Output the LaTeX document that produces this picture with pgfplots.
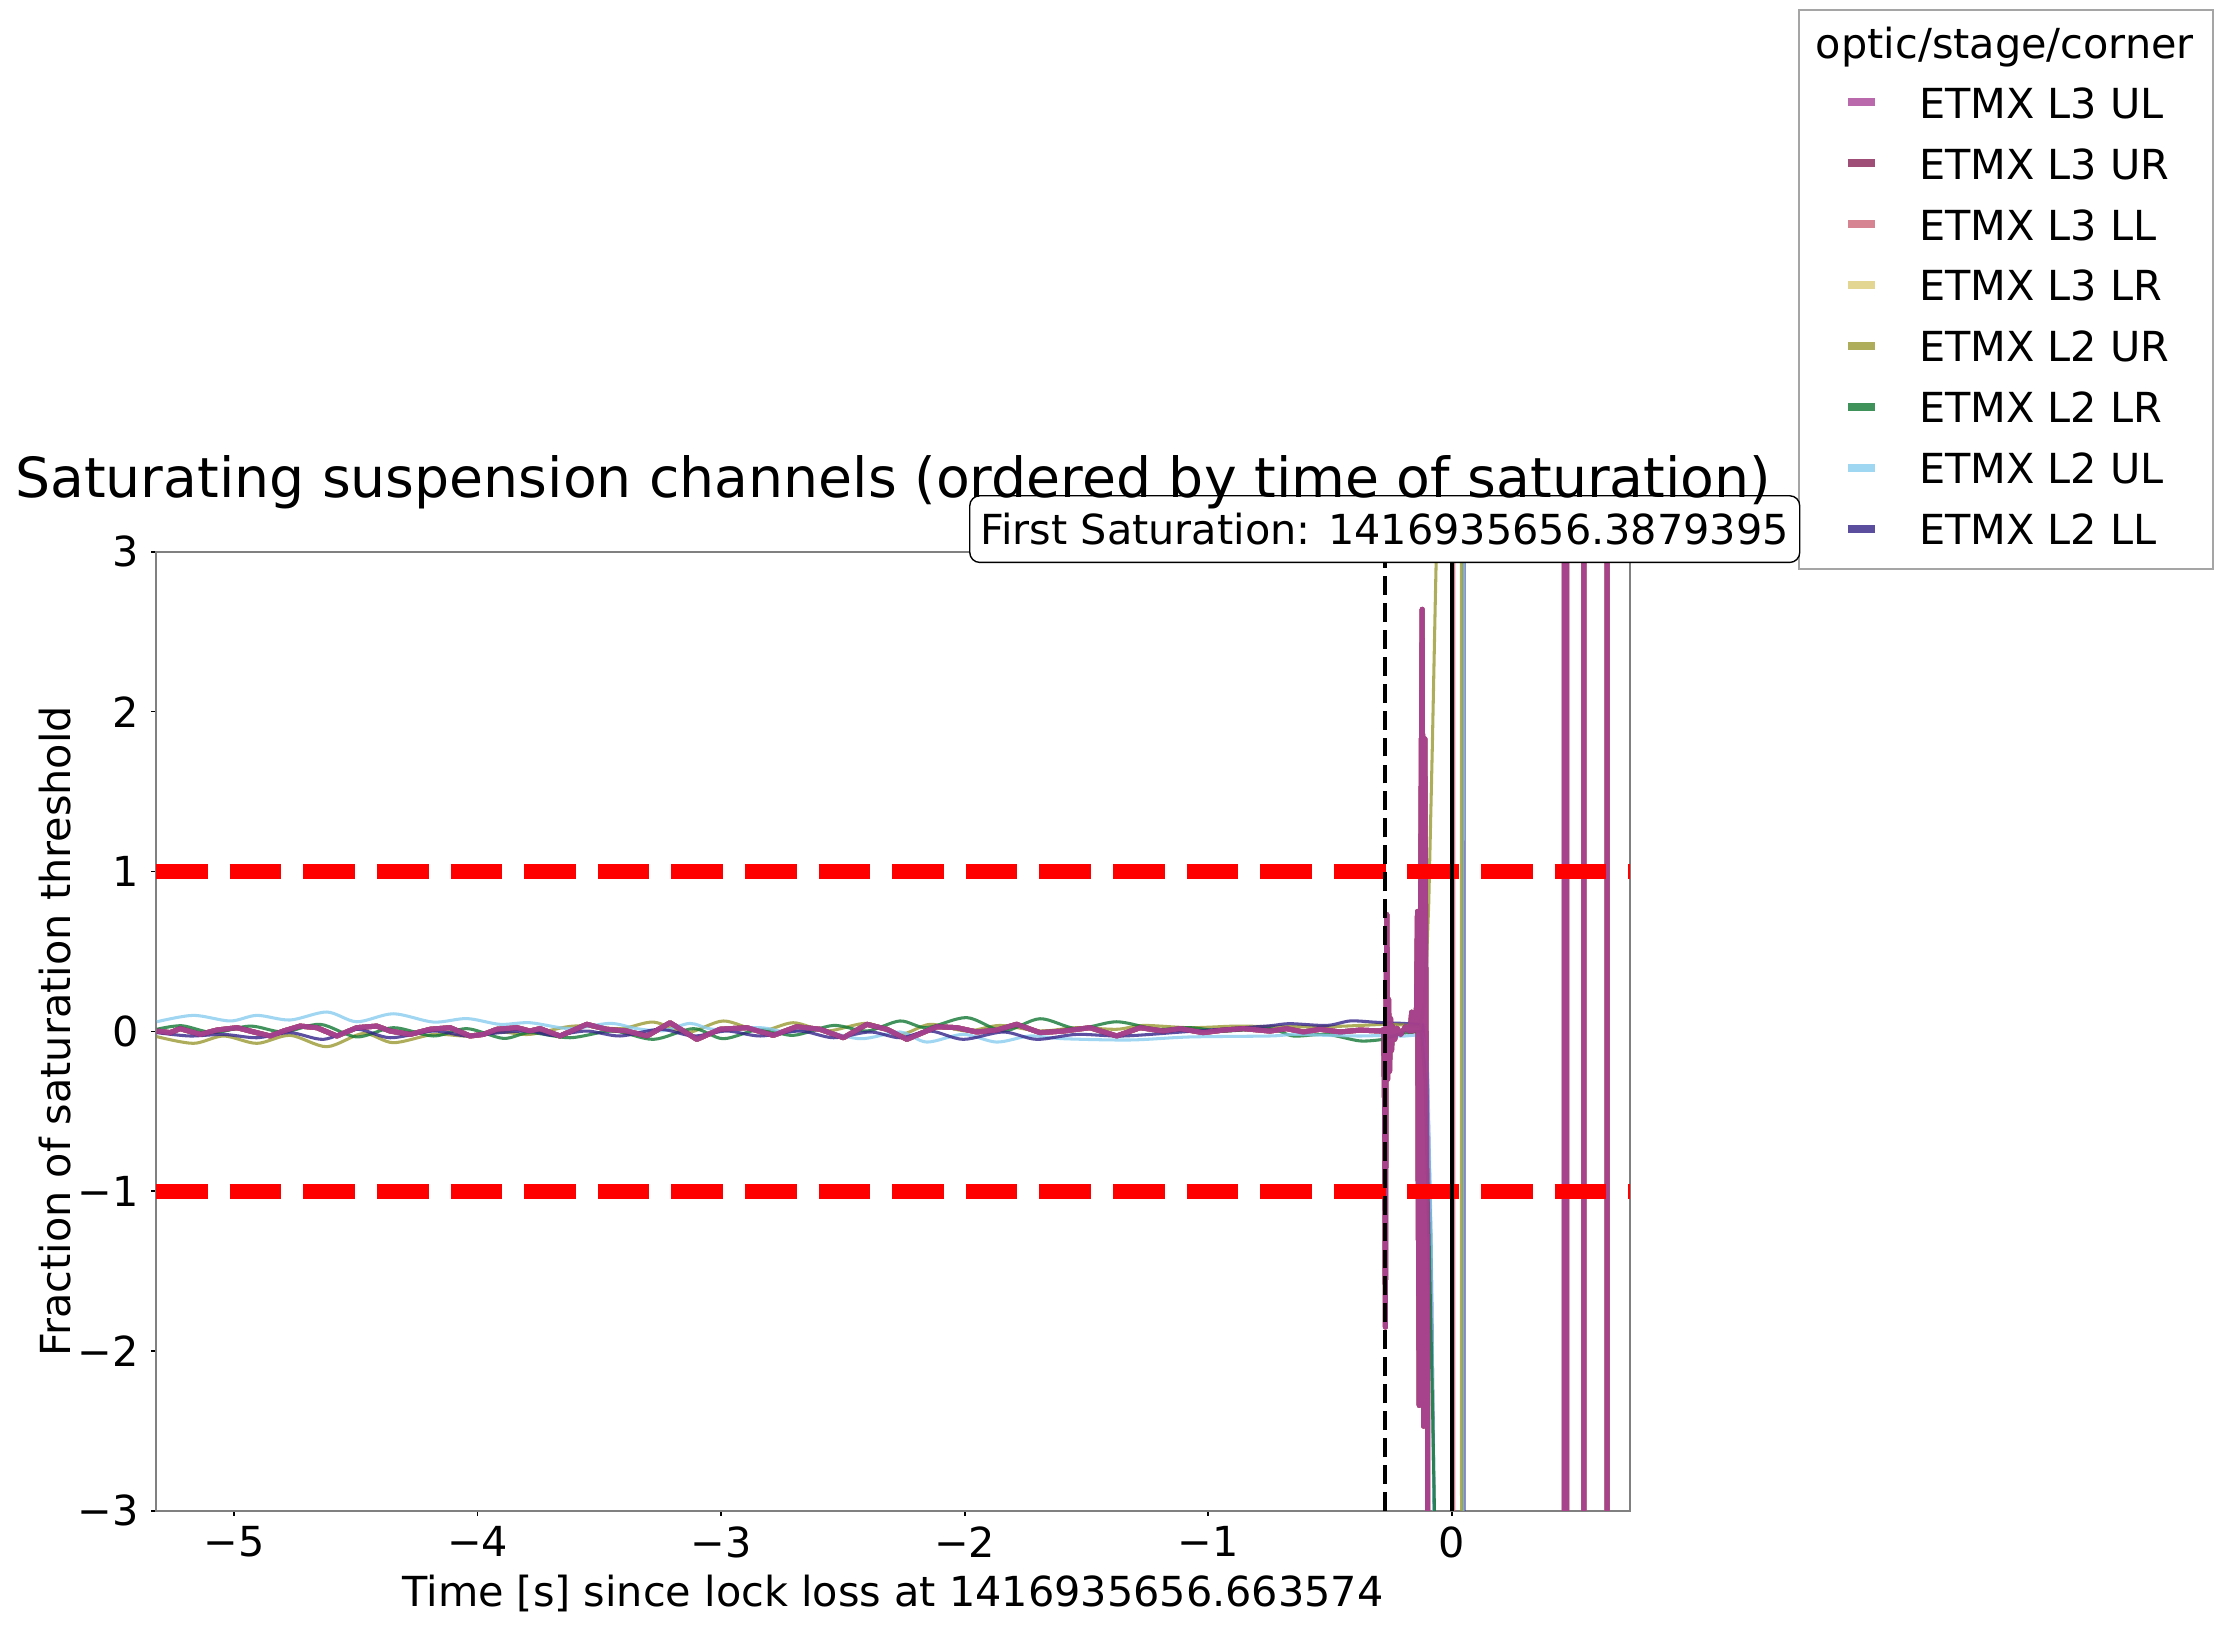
\documentclass[border=0pt]{standalone}
\usepackage{fontspec}
\setmainfont{DejaVu Sans}
\usepackage{pgfplots}
\usepackage{pgfplotstable}
\pgfplotsset{compat=1.18}
\definecolor{tolpurple}{HTML}{AA4499}
\definecolor{tolwine}{HTML}{882255}
\definecolor{tolrose}{HTML}{CC6677}
\definecolor{tolsand}{HTML}{DDCC77}
\definecolor{tololive}{HTML}{999933}
\definecolor{tolgreen}{HTML}{117733}
\definecolor{tolcyan}{HTML}{88CCEE}
\definecolor{tolindigo}{HTML}{332288}
\definecolor{spinegray}{RGB}{128,128,128}
\definecolor{framegray}{RGB}{165,165,165}
\newcommand\fs{\fontsize{14.9}{17.9}\selectfont}

\pgfplotstableread{
t y
-5.317 0.002
-5.262 -0.008
-5.221 0.017
-5.139 -0.019
-5.071 0.008
-4.988 0.023
-4.934 0.002
-4.852 -0.029
-4.797 0.002
-4.729 0.033
-4.660 0.023
-4.578 -0.029
-4.496 0.023
-4.414 0.033
-4.359 0.002
-4.277 -0.019
-4.195 0.013
-4.113 0.023
-4.031 -0.029
-3.976 -0.019
-3.921 0.013
-3.839 0.023
-3.785 0.002
-3.744 0.017
-3.662 -0.029
-3.552 0.044
-3.470 0.013
-3.388 0.002
-3.305 -0.029
-3.210 0.054
-3.100 -0.050
-3.005 0.013
-2.895 0.023
-2.786 -0.025
-2.690 0.029
-2.594 0.013
-2.498 -0.040
-2.402 0.044
-2.320 0.013
-2.238 -0.050
-2.115 0.029
-2.033 0.023
-1.951 -0.004
-1.869 0.008
-1.787 0.044
-1.691 -0.008
-1.595 0.002
-1.486 0.023
-1.376 -0.029
-1.280 0.023
-1.185 0.002
-1.116 0.017
-1.021 -0.008
-0.938 0.008
-0.856 0.017
-0.747 0.002
-0.678 0.017
-0.610 -0.004
-0.541 0.013
-0.459 -0.004
-0.377 0.008
-0.295 0.002
-0.280 0.010
-0.276 -0.500
-0.273 -1.850
-0.270 0.200
-0.267 0.730
-0.264 -0.300
-0.260 0.200
-0.256 -0.250
-0.252 0.080
-0.248 -0.120
-0.243 0.030
-0.235 -0.050
-0.225 0.020
-0.210 -0.020
-0.190 0.030
-0.175 0.000
-0.168 0.060
-0.165 0.120
-0.162 0.000
-0.152 0.030
-0.146 0.050
-0.141 0.750
-0.138 -1.000
-0.134 -2.340
-0.129 0.600
-0.122 2.640
-0.119 0.900
-0.116 -2.470
-0.111 1.830
-0.105 -0.500
-0.100 -1.500
-0.094 -60
0.460 -60
0.463 60
0.470 60
0.473 -60
0.540 -60
0.543 60
0.636 60
0.638 -60
0.731 -60
}\lthree

\pgfplotstableread{
t y
-5.317 -0.033
-5.167 -0.075
-5.043 -0.029
-4.906 -0.075
-4.770 -0.025
-4.619 -0.096
-4.469 -0.013
-4.346 -0.071
-4.181 -0.019
-4.044 -0.029
-3.908 -0.004
-3.785 -0.019
-3.607 0.033
-3.415 0.017
-3.278 0.058
-3.141 -0.008
-2.991 0.065
-2.840 0.002
-2.704 0.054
-2.567 0.002
-2.402 0.050
-2.266 -0.019
-2.142 0.044
-1.992 0.002
-1.855 0.037
-1.691 0.002
-1.540 0.023
-1.376 0.013
-1.267 0.037
-1.075 0.023
-0.884 0.033
-0.747 0.029
-0.651 0.029
-0.514 0.029
-0.377 0.037
-0.282 0.044
}\ltwour

\pgfplotstableread{
t y
-5.317 0.013
-5.214 0.035
-5.084 -0.008
-4.934 0.033
-4.797 -0.004
-4.647 0.044
-4.496 -0.035
-4.346 0.023
-4.181 -0.029
-4.044 0.017
-3.894 -0.044
-3.785 -0.008
-3.620 -0.040
-3.443 0.002
-3.278 -0.050
-3.114 0.017
-2.991 -0.046
-2.840 0.013
-2.704 -0.025
-2.539 0.037
-2.402 0.002
-2.266 0.065
-2.156 0.023
-1.992 0.086
-1.842 0.002
-1.691 0.079
-1.540 0.017
-1.376 0.060
-1.212 0.013
-1.075 0.023
-0.938 0.002
-0.747 0.017
-0.651 -0.029
-0.514 -0.019
-0.377 -0.060
-0.282 -0.050
}\ltwolr

\pgfplotstableread{
t y
-5.317 0.060
-5.167 0.100
-5.016 0.065
-4.906 0.100
-4.770 0.071
-4.619 0.121
-4.496 0.060
-4.346 0.110
-4.181 0.058
-4.044 0.080
-3.908 0.044
-3.785 0.054
-3.620 0.017
-3.456 0.050
-3.347 0.017
-3.237 0.004
-3.128 0.050
-3.032 0.013
-2.840 0.023
-2.731 -0.004
-2.622 0.017
-2.430 -0.046
-2.266 -0.004
-2.156 -0.067
-2.006 -0.019
-1.869 -0.067
-1.732 -0.029
-1.595 -0.046
-1.321 -0.054
-1.075 -0.035
-0.747 -0.029
-0.651 -0.019
-0.514 -0.025
-0.377 -0.029
-0.282 -0.025
}\ltwoul

\pgfplotstableread{
t y
-5.317 -0.008
-5.181 -0.029
-5.043 -0.019
-4.906 -0.040
-4.770 -0.008
-4.633 -0.050
-4.496 0.013
-4.359 -0.040
-4.181 0.002
-4.044 -0.029
-3.908 -0.008
-3.785 0.002
-3.689 -0.025
-3.552 0.002
-3.415 -0.029
-3.251 0.013
-3.114 -0.029
-2.977 0.002
-2.840 -0.029
-2.676 0.002
-2.539 -0.040
-2.389 -0.004
-2.266 -0.040
-2.142 0.002
-2.006 -0.050
-1.842 -0.004
-1.705 -0.050
-1.540 -0.019
-1.349 -0.029
-1.075 0.000
-0.884 0.020
-0.747 0.035
-0.665 0.048
-0.514 0.037
-0.418 0.065
-0.323 0.058
-0.282 0.054
}\ltwoll

\begin{document}
\begin{tikzpicture}
\useasboundingbox (0pt,0pt) rectangle (799.6pt,585.4pt);
% legend frame and title
\draw[framegray, line width=0.6pt, fill=white] (647.6pt,380.6pt) rectangle (796.7pt,581.8pt);
\node[anchor=base, inner sep=0pt, font=\fs] at (721.8pt,564.3pt) {optic/stage/corner};
\begin{axis}[
  at={(56.2pt,41.4pt)}, anchor=south west,
  width=530.6pt, height=345.3pt, scale only axis,
  xmin=-5.32, xmax=0.731, ymin=-3, ymax=3,
  clip mode=individual,
  xtick={-5,-4,-3,-2,-1,0}, ytick={-3,-2,-1,0,1,2,3},
  xticklabels={−5,−4,−3,−2,−1,0},
  yticklabels={−3,−2,−1,0,1,2,3},
  tick pos=left, tick align=outside,
  major tick length=1.8pt,
  every tick/.style={black, line width=0.6pt},
  axis line style={spinegray, line width=0.6pt},
  tick label style={font=\fs},
  xticklabel style={anchor=north, inner sep=0pt, yshift=-3.6pt},
  yticklabel style={anchor=east, inner sep=0pt, xshift=-4.2pt},
  xlabel={Time [s] since lock loss at 1416935656.663574},
  xlabel style={at={(axis description cs:0.5,-0.0996)}, anchor=base, inner sep=0pt, font=\fs},
  ylabel={Fraction of saturation threshold},
  ylabel style={at={(axis description cs:-0.0584,0.5)}, anchor=base, inner sep=0pt, font=\fs},
  legend style={at={(1.1451,1.4868)}, anchor=north west, draw=none, fill=none,
    inner sep=0pt, outer sep=0pt, row sep=9.33pt, column sep=14.5pt, font=\fs,
    nodes={inner sep=0pt, text height=12pt, text depth=0.6pt}, cells={anchor=west}},
  legend image code/.code={\draw[#1, line width=2.9pt, line cap=butt] (0pt,0pt) -- (9.7pt,0pt);},
]
\addplot[tolpurple, draw opacity=0.8, line width=1.8pt, line join=round] table[x=t,y=y] {\lthree};
\addlegendentry{ETMX L3 UL}
\addplot[tolwine, draw opacity=0.8, line width=1.8pt, line join=round] table[x=t,y=y] {\lthree};
\addlegendentry{ETMX L3 UR}
\addplot[tolrose, draw opacity=0.8, line width=1.8pt, line join=round] table[x=t,y=y] {\lthree};
\addlegendentry{ETMX L3 LL}
\addplot[tolsand, draw opacity=0.8, line width=1.8pt, line join=round] table[x=t,y=y] {\lthree};
\addlegendentry{ETMX L3 LR}
\addplot[tololive, draw opacity=0.8, line width=1.1pt, smooth] table[x=t,y=y] {\ltwour};
\addlegendentry{ETMX L2 UR}
\addplot[tolgreen, draw opacity=0.8, line width=1.1pt, smooth] table[x=t,y=y] {\ltwolr};
\addlegendentry{ETMX L2 LR}
\addplot[tolcyan, draw opacity=0.8, line width=1.1pt, smooth] table[x=t,y=y] {\ltwoul};
\addlegendentry{ETMX L2 UL}
\addplot[tolindigo, draw opacity=0.8, line width=1.1pt, smooth] table[x=t,y=y] {\ltwoll};
\addlegendentry{ETMX L2 LL}
% behaviour after the first saturation
\addplot[forget plot, tolindigo, draw opacity=0.8, line width=1.1pt] coordinates {(-0.282,0.054) (-0.2,0.05) (-0.12,0.04) (-0.10,-0.3) (-0.085,-1.4) (-0.07,-3.4) (-0.06,-60) (0.049,-60) (0.052,60) (0.731,60)};
\addplot[forget plot, tolcyan, draw opacity=0.8, line width=1.1pt] coordinates {(-0.282,-0.025) (-0.2,-0.03) (-0.12,-0.02) (-0.10,-0.2) (-0.085,-1.3) (-0.072,-3.3) (-0.06,-60) (0.045,-60) (0.048,60) (0.731,60)};
\addplot[forget plot, tolgreen, draw opacity=0.8, line width=1.1pt] coordinates {(-0.282,-0.05) (-0.2,-0.01) (-0.125,0.0) (-0.11,-0.3) (-0.095,-1.2) (-0.08,-2.3) (-0.068,-3.3) (-0.05,-60) (0.731,-60)};
\addplot[forget plot, tololive, draw opacity=0.8, line width=1.1pt] coordinates {(-0.282,0.044) (-0.2,0.04) (-0.13,0.03) (-0.11,0.2) (-0.095,0.8) (-0.08,1.8) (-0.068,2.7) (-0.055,3.6) (-0.04,60) (0.038,60) (0.041,-60) (0.731,-60)};
\addplot[forget plot, tolrose, draw opacity=0.8, line width=1.2pt] coordinates {(0.006,-60) (0.009,60)};
\addplot[forget plot, tolwine, draw opacity=0.8, line width=1.8pt, line join=round] table[x=t,y=y] {\lthree};
\addplot[forget plot, tolpurple, draw opacity=0.8, line width=1.8pt, line join=round] table[x=t,y=y] {\lthree};
% thresholds
\addplot[forget plot, red, line width=5.4pt, dash pattern=on 18.6pt off 7.9pt] coordinates {(-5.32,1) (0.731,1)};
\addplot[forget plot, red, line width=5.4pt, dash pattern=on 18.6pt off 7.9pt] coordinates {(-5.32,-1) (0.731,-1)};
% first saturation and lock loss
\addplot[forget plot, black, line width=1.4pt, dash pattern=on 6.8pt off 2.9pt] coordinates {(-0.2756,-3) (-0.2756,3)};
\addplot[forget plot, black, line width=1.2pt] coordinates {(0,-3) (0,3)};
\node[draw=black, line width=0.5pt, rounded corners=3.6pt, fill=white, inner xsep=3.9pt, minimum height=24pt, font=\fs] at (axis cs:-0.2756,3.142) {First Saturation: 1416935656.3879395};
\end{axis}
\node[anchor=base, inner sep=0pt, font=\fontsize{19.9}{24}\selectfont] at (321.5pt,406.4pt) {Saturating suspension channels (ordered by time of saturation)};
\end{tikzpicture}
\end{document}
